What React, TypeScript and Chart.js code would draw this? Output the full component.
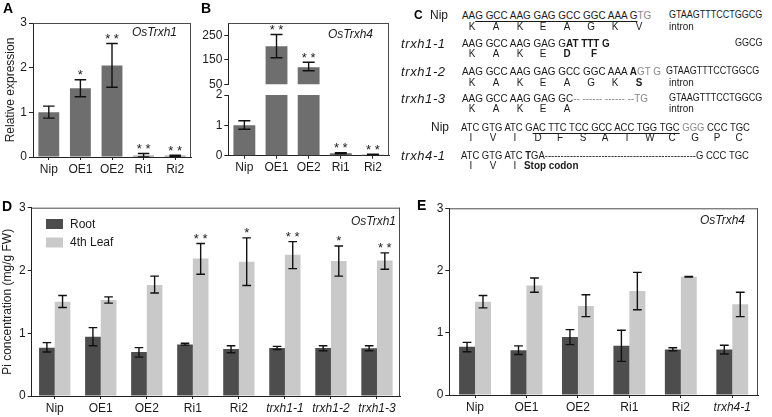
import React, { useEffect, useRef } from "react";
import { Chart, registerables } from "chart.js";

Chart.register(...registerables);

const FONT = "'Liberation Sans', Arial, Helvetica, sans-serif";
const INK = "#1a1a1a";
const AXIS = "#222222";
const FRAME = "#4a4a4a";
const BAR_GRAY = "#6e6e6e";
const ROOT_COLOR = "#4d4d4d";
const LEAF_COLOR = "#c9c9c9";
const ERR_COLOR = "#111111";
const SEQ_GRAY = "#8a8a8a";
const SEQ_SCALE = 0.9;

// ---------- Panel A : OsTrxh1 relative expression
const aCategories = ["Nip", "OE1", "OE2", "Ri1", "Ri2"];
const aValues = [1.0, 1.54, 2.05, 0.03, 0.03];
const aErrLow = [0.87, 1.35, 1.56, 0.0, 0.01];
const aErrHigh = [1.14, 1.73, 2.54, 0.08, 0.04];
const aStars = ["", "*", "* *", "* *", "* *"];
const aTicks = [0, 1, 2, 3];

// ---------- Panel B : OsTrxh4 relative expression (broken axis)
const bCategories = ["Nip", "OE1", "OE2", "Ri1", "Ri2"];
const bValues = [1.0, 205, 120, 0.08, 0.03];
const bErrLow = [0.87, 158, 105, 0.06, 0.02];
const bErrHigh = [1.15, 253, 140, 0.1, 0.05];
const bStars = ["", "* *", "* *", "* *", "* *"];
const bUpperTicks = [50, 150, 250];
const bLowerTicks = [0, 1, 2];

// ---------- Panel D : Pi concentration, OsTrxh1 lines
const dCategories = ["Nip", "OE1", "OE2", "Ri1", "Ri2", "trxh1-1", "trxh1-2", "trxh1-3"];
const dRoot = [0.77, 0.945, 0.7, 0.82, 0.75, 0.765, 0.765, 0.76];
const dRootLow = [0.7, 0.8, 0.62, 0.81, 0.69, 0.74, 0.72, 0.72];
const dRootHigh = [0.85, 1.09, 0.77, 0.84, 0.8, 0.79, 0.8, 0.8];
const dLeaf = [1.5, 1.53, 1.77, 2.19, 2.14, 2.25, 2.15, 2.16];
const dLeafLow = [1.41, 1.48, 1.64, 1.94, 1.76, 2.03, 1.91, 2.02];
const dLeafHigh = [1.6, 1.58, 1.91, 2.43, 2.52, 2.46, 2.39, 2.28];
const dLeafStars = ["", "", "", "* *", "*", "* *", "*", "* *"];

// ---------- Panel E : Pi concentration, OsTrxh4 lines
const eCategories = ["Nip", "OE1", "OE2", "Ri1", "Ri2", "trxh4-1"];
const eRoot = [0.775, 0.72, 0.93, 0.79, 0.73, 0.73];
const eRootLow = [0.695, 0.65, 0.81, 0.54, 0.71, 0.66];
const eRootHigh = [0.845, 0.79, 1.05, 1.04, 0.76, 0.8];
const eLeaf = [1.5, 1.76, 1.43, 1.67, 1.9, 1.46];
const eLeafLow = [1.4, 1.65, 1.26, 1.37, 1.895, 1.26];
const eLeafHigh = [1.6, 1.88, 1.61, 1.97, 1.905, 1.65];
const piTicks = [0, 1, 2, 3];

const seriesNames = ["Root", "4th Leaf"];

// ---------- Panel C : sequence text
const aaNip1 = ["K", "A", "K", "E", "A", "G", "K", "V"];
const aaTrxh11 = ["K", "A", "K", "E"];
const aaTrxh12 = ["K", "A", "K", "E", "A", "G", "K"];
const aaTrxh13 = ["K", "A", "K", "E", "A"];
const aaNip4 = ["I", "V", "I", "D", "F", "S", "A", "T", "W", "C", "G", "P", "C"];
const aaTrxh41 = ["I", "V", "I"];

// ---------- plugins
const errorBarsPlugin = {
  id: "errorBars",
  afterDatasetsDraw(chart: any) {
    const { ctx, chartArea: a } = chart;
    const yScale = chart.scales.y;
    ctx.save();
    ctx.beginPath();
    ctx.rect(a.left, a.top - 1, a.right - a.left, a.bottom - a.top + 1);
    ctx.clip();
    chart.data.datasets.forEach((ds: any, di: number) => {
      if (!ds.errLow) return;
      const meta = chart.getDatasetMeta(di);
      meta.data.forEach((bar: any, i: number) => {
        const x = bar.x;
        const yH = yScale.getPixelForValue(ds.errHigh[i]);
        const yL = yScale.getPixelForValue(ds.errLow[i]);
        const cap = (bar.width * 0.55) / 2;
        ctx.strokeStyle = ERR_COLOR;
        ctx.lineWidth = 1.4;
        ctx.beginPath();
        ctx.moveTo(x, yH);
        ctx.lineTo(x, yL);
        ctx.moveTo(x - cap, yH);
        ctx.lineTo(x + cap, yH);
        ctx.moveTo(x - cap, yL);
        ctx.lineTo(x + cap, yL);
        ctx.stroke();
        const s = ds.stars ? ds.stars[i] : "";
        if (s) {
          ctx.fillStyle = INK;
          ctx.font = `13px ${FONT}`;
          ctx.textAlign = "center";
          ctx.textBaseline = "alphabetic";
          ctx.fillText(s, x, yH - 0.5);
        }
      });
    });
    ctx.restore();
  },
};

const framePlugin = {
  id: "frame",
  afterDraw(chart: any, _args: any, opts: any) {
    const { ctx, chartArea: a } = chart;
    ctx.save();
    ctx.strokeStyle = FRAME;
    ctx.lineWidth = 1;
    ctx.beginPath();
    if (opts.top) {
      ctx.moveTo(a.left, a.top + 0.5);
      ctx.lineTo(a.right, a.top + 0.5);
    }
    if (opts.right) {
      const yEnd = opts.extendBottom ? chart.height : a.bottom;
      ctx.moveTo(a.right - 0.5, opts.top ? a.top : 0);
      ctx.lineTo(a.right - 0.5, yEnd);
    }
    ctx.stroke();
    ctx.restore();
  },
};

const panelTitlePlugin = {
  id: "panelTitle",
  afterDraw(chart: any, _args: any, opts: any) {
    if (!opts || !opts.text) return;
    const { ctx, chartArea: a } = chart;
    ctx.save();
    ctx.fillStyle = INK;
    ctx.font = `italic 12px ${FONT}`;
    ctx.textAlign = "right";
    ctx.textBaseline = "middle";
    ctx.fillText(opts.text, a.right - opts.dx, a.top + opts.dy);
    ctx.restore();
  },
};

const innerLegendPlugin = {
  id: "innerLegend",
  afterDraw(chart: any, _args: any, opts: any) {
    if (!opts || !opts.show) return;
    const { ctx, chartArea: a } = chart;
    ctx.save();
    chart.data.datasets.forEach((ds: any, i: number) => {
      const x = a.left + opts.dx;
      const y = a.top + opts.dy + i * opts.row;
      ctx.fillStyle = ds.backgroundColor;
      ctx.fillRect(x, y, 17, 10);
      ctx.fillStyle = INK;
      ctx.font = `12px ${FONT}`;
      ctx.textAlign = "left";
      ctx.textBaseline = "middle";
      ctx.fillText(ds.label, x + 24, y + 5.5);
    });
    ctx.restore();
  },
};

type PanelOpts = {
  labels: string[];
  datasets: any[];
  yMin: number;
  yMax: number;
  yTicks: number[];
  yWidth: number;
  xHeight: number;
  showX: boolean;
  padding: { top: number; right: number; bottom: number; left: number };
  yTitle?: string;
  yTitlePad?: number;
  catPct: number;
  barPct: number;
  frame: { top: boolean; right: boolean; extendBottom?: boolean };
  title?: { text: string; dx: number; dy: number };
  legend?: { show: boolean; dx: number; dy: number; row: number };
};

function buildConfig(o: PanelOpts): any {
  return {
    type: "bar",
    data: { labels: o.labels, datasets: o.datasets },
    options: {
      responsive: false,
      maintainAspectRatio: false,
      animation: false,
      devicePixelRatio: 1,
      events: [],
      layout: { padding: o.padding },
      datasets: { bar: { categoryPercentage: o.catPct, barPercentage: o.barPct, borderWidth: 0 } },
      plugins: {
        legend: { display: false },
        tooltip: { enabled: false },
        frame: o.frame,
        panelTitle: o.title ?? { text: "" },
        innerLegend: o.legend ?? { show: false },
      },
      scales: {
        x: {
          type: "category",
          display: o.showX,
          offset: true,
          grid: {
            display: true,
            offset: false,
            drawOnChartArea: false,
            drawTicks: true,
            tickLength: 3,
            color: AXIS,
            lineWidth: 1,
          },
          border: { display: true, color: AXIS, width: 1 },
          ticks: {
            color: INK,
            padding: 2,
            autoSkip: false,
            maxRotation: 0,
            minRotation: 0,
            font: (c: any) => ({
              family: FONT,
              size: 12,
              style: /^trxh/.test(o.labels[c.index] ?? "") ? "italic" : "normal",
            }),
          },
          afterFit: (s: any) => {
            s.height = o.xHeight;
          },
        },
        y: {
          type: "linear",
          min: o.yMin,
          max: o.yMax,
          grid: {
            display: true,
            drawOnChartArea: false,
            drawTicks: true,
            tickLength: 4,
            color: AXIS,
            lineWidth: 1,
          },
          border: { display: true, color: AXIS, width: 1 },
          ticks: { color: INK, padding: 2, font: { family: FONT, size: 12 } },
          afterBuildTicks: (s: any) => {
            s.ticks = o.yTicks.map((v) => ({ value: v }));
          },
          afterFit: (s: any) => {
            s.width = o.yWidth;
          },
          title: o.yTitle
            ? {
                display: true,
                text: o.yTitle,
                color: INK,
                font: { family: FONT, size: 12 },
                padding: { top: o.yTitlePad ?? 0, bottom: 0 },
              }
            : { display: false },
        },
      },
    },
    plugins: [errorBarsPlugin, framePlugin, panelTitlePlugin, innerLegendPlugin],
  };
}

function ChartBox(props: { left: number; top: number; width: number; height: number; make: () => any }) {
  const ref = useRef<HTMLCanvasElement | null>(null);
  useEffect(() => {
    if (!ref.current) return;
    const chart = new Chart(ref.current, props.make());
    return () => chart.destroy();
  }, []);
  return (
    <canvas
      ref={ref}
      width={props.width}
      height={props.height}
      style={{ position: "absolute", left: props.left, top: props.top, width: props.width, height: props.height }}
    />
  );
}

const makeA = () =>
  buildConfig({
    labels: aCategories,
    datasets: [
      { label: "OsTrxh1", data: aValues, backgroundColor: BAR_GRAY, errLow: aErrLow, errHigh: aErrHigh, stars: aStars },
    ],
    yMin: 0,
    yMax: 3,
    yTicks: aTicks,
    yWidth: 33,
    xHeight: 33,
    showX: true,
    padding: { top: 23, right: 9, bottom: 0, left: 0 },
    yTitle: "Relative expression",
    yTitlePad: 3,
    catPct: 1,
    barPct: 0.66,
    frame: { top: true, right: true },
    title: { text: "OsTrxh1", dx: 14, dy: 10 },
  });

const makeBUpper = () =>
  buildConfig({
    labels: bCategories,
    datasets: [
      { label: "OsTrxh4", data: bValues, backgroundColor: BAR_GRAY, errLow: bErrLow, errHigh: bErrHigh, stars: bStars },
    ],
    yMin: 50,
    yMax: 300,
    yTicks: bUpperTicks,
    yWidth: 38.3,
    xHeight: 0,
    showX: false,
    padding: { top: 23, right: 11, bottom: 10.7, left: 0 },
    catPct: 1,
    barPct: 0.68,
    frame: { top: true, right: true, extendBottom: true },
    title: { text: "OsTrxh4", dx: 16, dy: 12 },
  });

const makeBLower = () =>
  buildConfig({
    labels: bCategories,
    datasets: [
      { label: "OsTrxh4", data: bValues, backgroundColor: BAR_GRAY, errLow: bErrLow, errHigh: bErrHigh, stars: bStars },
    ],
    yMin: 0,
    yMax: 2,
    yTicks: bLowerTicks,
    yWidth: 38.3,
    xHeight: 34.3,
    showX: true,
    padding: { top: 10, right: 11, bottom: 0, left: 0 },
    catPct: 1,
    barPct: 0.68,
    frame: { top: false, right: true },
  });

const makeD = () =>
  buildConfig({
    labels: dCategories,
    datasets: [
      { label: seriesNames[0], data: dRoot, backgroundColor: ROOT_COLOR, errLow: dRootLow, errHigh: dRootHigh },
      { label: seriesNames[1], data: dLeaf, backgroundColor: LEAF_COLOR, errLow: dLeafLow, errHigh: dLeafHigh, stars: dLeafStars },
    ],
    yMin: 0,
    yMax: 3,
    yTicks: piTicks,
    yWidth: 31.7,
    xHeight: 21,
    showX: true,
    padding: { top: 12.7, right: 10, bottom: 0, left: 0 },
    yTitle: "Pi concentration (mg/g FW)",
    yTitlePad: 0,
    catPct: 0.68,
    barPct: 1,
    frame: { top: true, right: true },
    title: { text: "OsTrxh1", dx: 4, dy: 14 },
    legend: { show: true, dx: 14.3, dy: 11.3, row: 18.5 },
  });

const makeE = () =>
  buildConfig({
    labels: eCategories,
    datasets: [
      { label: seriesNames[0], data: eRoot, backgroundColor: ROOT_COLOR, errLow: eRootLow, errHigh: eRootHigh },
      { label: seriesNames[1], data: eLeaf, backgroundColor: LEAF_COLOR, errLow: eLeafLow, errHigh: eLeafHigh },
    ],
    yMin: 0,
    yMax: 3,
    yTicks: piTicks,
    yWidth: 39.3,
    xHeight: 22,
    showX: true,
    padding: { top: 13.3, right: 14, bottom: 0, left: 0 },
    catPct: 0.62,
    barPct: 1,
    frame: { top: true, right: true },
    title: { text: "OsTrxh4", dx: 13, dy: 12.5 },
  });

// ---------- text helpers
function Txt(props: {
  x: number;
  y: number;
  size?: number;
  seq?: boolean;
  scale?: number;
  style?: any;
  center?: boolean;
  right?: boolean;
  children: any;
}) {
  const size = props.size ?? 11;
  const seq = props.seq !== false;
  const tf: string[] = [];
  if (props.center) tf.push("translateX(-50%)");
  if (seq) tf.push(`scaleX(${props.scale ?? SEQ_SCALE})`);
  return (
    <div
      style={{
        position: "absolute",
        left: props.right ? undefined : props.x,
        right: props.right ? 772 - props.x : undefined,
        top: props.y - size / 2,
        fontSize: size,
        lineHeight: `${size}px`,
        fontFamily: FONT,
        whiteSpace: "pre",
        color: INK,
        transform: tf.length ? tf.join(" ") : undefined,
        transformOrigin: props.right ? "right center" : props.center ? "center" : "left center",
        ...props.style,
      }}
    >
      {props.children}
    </div>
  );
}

const B = (p: { children: any }) => <span style={{ fontWeight: 700 }}>{p.children}</span>;
const G = (p: { children: any }) => <span style={{ color: SEQ_GRAY }}>{p.children}</span>;
const U = (p: { children: any }) => (
  <span style={{ textDecoration: "underline", textUnderlineOffset: "2px", textDecorationThickness: "1px" }}>{p.children}</span>
);

function AminoRow(props: { letters: string[]; x0: number; step: number; y: number }) {
  return (
    <>
      {props.letters.map((l, i) => (
        <Txt key={i} x={props.x0 + i * props.step} y={props.y} center>
          {l}
        </Txt>
      ))}
    </>
  );
}

const labelStyle = { fontStyle: "italic", letterSpacing: "0.6px" };

function PanelC() {
  const s1 = 471.7;
  const st1 = 23.9;
  const s2 = 470.5;
  const st2 = 22.4;
  const sc2 = 0.86;
  return (
    <>
      {/* row 1 */}
      <Txt x={430} y={15} size={12} seq={false}>Nip</Txt>
      <Txt x={462} y={15}>
        AA<U>G GCC AAG GAG GCC GGC AAA G</U>
        <G>TG</G>
      </Txt>
      <Txt x={669} y={15} size={10}>GTAAGTTTCCTGGCG</Txt>
      <AminoRow letters={aaNip1} x0={s1} step={st1} y={26} />
      <Txt x={669} y={26}>intron</Txt>

      {/* row 2 */}
      <Txt x={401} y={43} size={13} seq={false} style={labelStyle}>trxh1-1</Txt>
      <Txt x={462} y={43}>
        AAG GCC AAG GAG G<B>AT TTT G</B>
      </Txt>
      <Txt x={763} y={43} size={10} right>GGCG</Txt>
      <AminoRow letters={aaTrxh11} x0={s1} step={st1} y={53} />
      <Txt x={567} y={53} center style={{ fontWeight: 700 }}>D</Txt>
      <Txt x={594} y={53} center style={{ fontWeight: 700 }}>F</Txt>

      {/* row 3 */}
      <Txt x={401} y={71} size={13} seq={false} style={labelStyle}>trxh1-2</Txt>
      <Txt x={462} y={71}>
        AAG GCC AAG GAG GCC GGC AAA <B>A</B>
        <G>GT G</G>
      </Txt>
      <Txt x={666} y={71} size={10}>GTAAGTTTCCTGGCG</Txt>
      <AminoRow letters={aaTrxh12} x0={s1} step={st1} y={82} />
      <Txt x={s1 + 7 * st1} y={82} center style={{ fontWeight: 700 }}>S</Txt>
      <Txt x={669} y={82}>intron</Txt>

      {/* row 4 */}
      <Txt x={401} y={98} size={13} seq={false} style={labelStyle}>trxh1-3</Txt>
      <Txt x={462} y={98}>
        AAG GCC AAG GAG GC<G>-- ------ ------ --TG</G>
      </Txt>
      <Txt x={669} y={98} size={10}>GTAAGTTTCCTGGCG</Txt>
      <AminoRow letters={aaTrxh13} x0={s1} step={st1} y={108} />
      <Txt x={669} y={108}>intron</Txt>

      {/* row 5 */}
      <Txt x={431} y={127} size={12} seq={false}>Nip</Txt>
      <Txt x={461} y={127} scale={sc2}>
        ATC GTG ATC G<U>AC TTC TCC GCC ACC TGG TGC</U> <G>GGG</G> CCC TGC
      </Txt>
      <AminoRow letters={aaNip4} x0={s2} step={st2} y={137} />

      {/* row 6 */}
      <Txt x={401} y={155} size={13} seq={false} style={labelStyle}>trxh4-1</Txt>
      <Txt x={461} y={155} scale={sc2}>
        ATC GTG ATC <B>T</B>GA------------------------------------------------G CCC TGC
      </Txt>
      <AminoRow letters={aaTrxh41} x0={s2} step={st2} y={165} />
      <Txt x={524} y={165} style={{ fontWeight: 700 }}>Stop codon</Txt>
    </>
  );
}

function PanelLetter(props: { x: number; top: number; size: number; children: string }) {
  return (
    <div
      style={{
        position: "absolute",
        left: props.x,
        top: props.top,
        fontSize: props.size,
        lineHeight: `${props.size}px`,
        fontWeight: 700,
        fontFamily: FONT,
        color: "#000",
      }}
    >
      {props.children}
    </div>
  );
}

export default function App() {
  return (
    <div
      style={{
        position: "absolute",
        left: 0,
        top: 0,
        width: 772,
        height: 417,
        background: "#ffffff",
        overflow: "hidden",
        fontFamily: FONT,
        color: INK,
      }}
    >
      <ChartBox left={0} top={0} width={200} height={190} make={makeA} />
      <ChartBox left={190} top={0} width={210} height={95} make={makeBUpper} />
      <ChartBox left={190} top={85} width={210} height={105} make={makeBLower} />
      <ChartBox left={0} top={195} width={410} height={222} make={makeD} />
      <ChartBox left={410} top={195} width={362} height={222} make={makeE} />
      <PanelC />
      <PanelLetter x={3} top={1} size={14}>A</PanelLetter>
      <PanelLetter x={201} top={1} size={14}>B</PanelLetter>
      <PanelLetter x={414} top={8.5} size={12}>C</PanelLetter>
      <PanelLetter x={2} top={198.5} size={14}>D</PanelLetter>
      <PanelLetter x={417} top={197.5} size={14}>E</PanelLetter>
    </div>
  );
}
